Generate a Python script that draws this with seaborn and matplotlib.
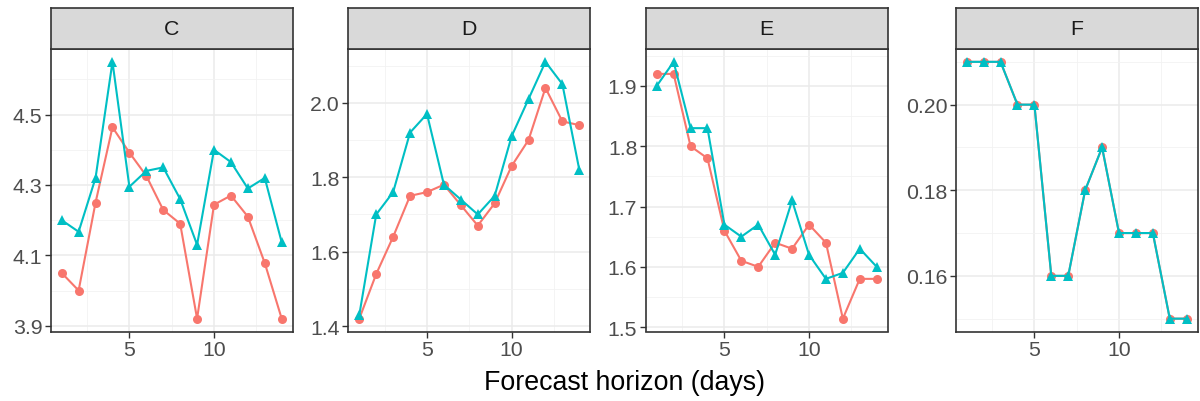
import matplotlib
matplotlib.use('Agg')
import matplotlib.pyplot as plt
import numpy as np
import pandas as pd
import seaborn as sns

horizon = list(range(1, 15))
panels = ['C', 'D', 'E', 'F']
series_names = ['red', 'teal']

c_red = [4.05, 4.00, 4.25, 4.464, 4.392, 4.326, 4.229, 4.19, 3.92, 4.244, 4.27, 4.21, 4.078, 3.92]
c_teal = [4.20, 4.167, 4.32, 4.65, 4.295, 4.34, 4.35, 4.26, 4.13, 4.40, 4.365, 4.29, 4.32, 4.137]
d_red = [1.42, 1.54, 1.64, 1.75, 1.76, 1.78, 1.725, 1.67, 1.73, 1.83, 1.90, 2.04, 1.95, 1.94]
d_teal = [1.43, 1.70, 1.76, 1.92, 1.97, 1.78, 1.74, 1.70, 1.75, 1.91, 2.01, 2.11, 2.05, 1.82]
e_red = [1.92, 1.92, 1.80, 1.78, 1.66, 1.61, 1.60, 1.64, 1.63, 1.67, 1.64, 1.514, 1.58, 1.58]
e_teal = [1.90, 1.94, 1.83, 1.83, 1.67, 1.65, 1.67, 1.62, 1.71, 1.62, 1.58, 1.59, 1.63, 1.60]
f_red = [0.21, 0.21, 0.21, 0.20, 0.20, 0.16, 0.16, 0.18, 0.19, 0.17, 0.17, 0.17, 0.15, 0.15]
f_teal = [0.21, 0.21, 0.21, 0.20, 0.20, 0.16, 0.16, 0.18, 0.19, 0.17, 0.17, 0.17, 0.15, 0.15]

panel_values = {
    'C': (c_red, c_teal),
    'D': (d_red, d_teal),
    'E': (e_red, e_teal),
    'F': (f_red, f_teal),
}
y_major = {
    'C': [3.9, 4.1, 4.3, 4.5],
    'D': [1.4, 1.6, 1.8, 2.0],
    'E': [1.5, 1.6, 1.7, 1.8, 1.9],
    'F': [0.16, 0.18, 0.20],
}
y_minor = {
    'C': [4.0, 4.2, 4.4, 4.6],
    'D': [1.5, 1.7, 1.9, 2.1],
    'E': [1.55, 1.65, 1.75, 1.85, 1.95],
    'F': [0.15, 0.17, 0.19, 0.21],
}
y_fmt = {'C': '%.1f', 'D': '%.1f', 'E': '%.1f', 'F': '%.2f'}

rows = []
for panel in panels:
    for name, values in zip(series_names, panel_values[panel]):
        for h, v in zip(horizon, values):
            rows.append({'panel': panel, 'series': name, 'horizon': h, 'value': v})
data = pd.DataFrame(rows)

sns.set_theme(style='white')
plt.rcParams['font.family'] = ['Liberation Sans', 'DejaVu Sans']

palette = {'red': '#F8766D', 'teal': '#00BFC4'}
markers = {'red': 'o', 'teal': '^'}

fig = plt.figure(figsize=(12, 4.02), dpi=100)
W, H = 1200.0, 402.0
lefts = [50.7, 348.3, 645.7, 955.7]
width = 242.0
panel_top = 50.0
panel_bottom = 332.5
strip_top = 8.7

for left, panel in zip(lefts, panels):
    ax = fig.add_axes([left / W, 1 - panel_bottom / H, width / W, (panel_bottom - panel_top) / H])
    sub = data[data['panel'] == panel]
    sns.lineplot(data=sub, x='horizon', y='value', hue='series', style='series',
                 hue_order=series_names, style_order=series_names,
                 palette=palette, markers=markers, dashes=False, legend=False,
                 linewidth=1.5, markersize=6.5, markeredgewidth=0, ax=ax)
    lo, hi = sub['value'].min(), sub['value'].max()
    pad = (hi - lo) * 0.05
    ax.set_ylim(lo - pad, hi + pad)
    ax.set_xlim(1 - 13 * 0.05, 14 + 13 * 0.05)
    ax.set_xticks([5, 10])
    ax.set_xticks([2.5, 7.5, 12.5], minor=True)
    ax.set_yticks(y_major[panel])
    ax.set_yticks(y_minor[panel], minor=True)
    ax.set_yticklabels([y_fmt[panel] % v for v in y_major[panel]])
    ax.grid(True, which='major', color='#EBEBEB', linewidth=1.1)
    ax.grid(True, which='minor', color='#F2F2F2', linewidth=0.6)
    ax.set_axisbelow(True)
    ax.set_xlabel('')
    ax.set_ylabel('')
    for spine in ax.spines.values():
        spine.set_color('#333333')
        spine.set_linewidth(1.2)
    ax.tick_params(which='major', direction='out', length=4.0, width=1.0, color='#333333',
                   labelsize=15.3, labelcolor='#4D4D4D', pad=2, left=True, bottom=True)
    ax.tick_params(which='minor', length=0)

    sax = fig.add_axes([left / W, 1 - panel_top / H, width / W, (panel_top - strip_top) / H])
    sax.set_facecolor('#D9D9D9')
    sax.set_xticks([])
    sax.set_yticks([])
    for spine in sax.spines.values():
        spine.set_color('#333333')
        spine.set_linewidth(1.2)
    sax.text(0.5, 0.5, panel, ha='center', va='center', fontsize=15.3, color='#1A1A1A',
             transform=sax.transAxes)

fig.text(624 / W, 1 - 383 / H, 'Forecast horizon (days)', ha='center', va='center',
         fontsize=19.3, color='black')

plt.savefig('out.png', dpi=100)
plt.close('all')
